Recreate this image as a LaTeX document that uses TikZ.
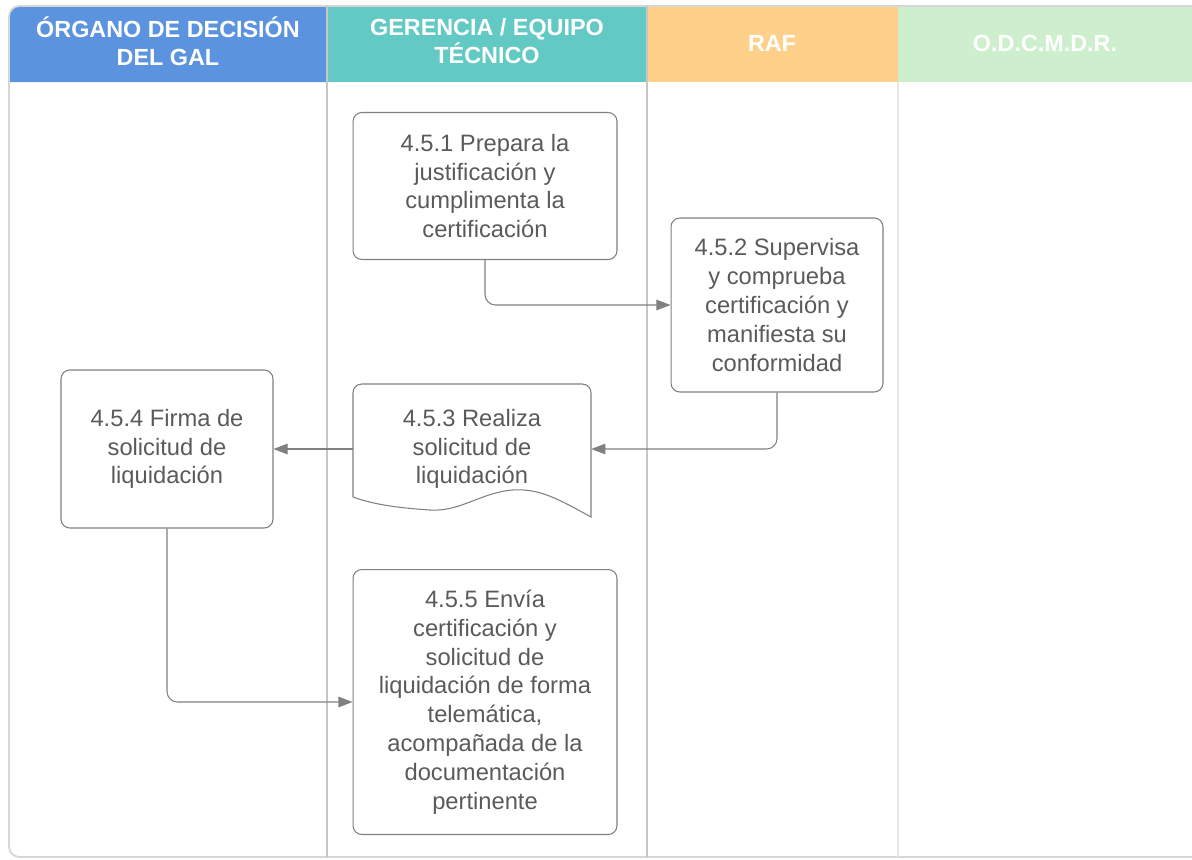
\documentclass[tikz,border=0pt]{standalone}
\usepackage{fontspec}
\setmainfont{Liberation Sans}
\usetikzlibrary{arrows.meta}
\definecolor{laneblue}{HTML}{5B93DE}
\definecolor{laneteal}{HTML}{62C9C4}
\definecolor{laneorange}{HTML}{FFD08A}
\definecolor{lanegreen}{HTML}{CDEFCD}
\definecolor{framegray}{HTML}{D6D6D6}
\definecolor{boxgray}{HTML}{808080}
\definecolor{txtgray}{HTML}{5A5A5A}

\begin{document}
\begin{tikzpicture}[x=0.02cm, y=-0.02cm,
  task/.style={draw=boxgray, line width=0.6pt, rounded corners=5pt, align=center,
    text=txtgray, font=\fontsize{13.5}{16.4}\selectfont},
  doctask/.style={align=center, text=txtgray, font=\fontsize{13.5}{16.4}\selectfont},
  flow/.style={draw=boxgray, line width=0.6pt, rounded corners=6pt,
    -{Triangle[length=8pt,width=6pt]}},
  lanehead/.style={text=white, align=center, font=\bfseries\fontsize{13.3}{15.9}\selectfont}]

\useasboundingbox (0,0) rectangle (1192,859);

% swimlane headers
\fill[laneblue] (9,82) [rounded corners=6pt] -- (9,6) [sharp corners] -- (327,6) -- (327,82) -- cycle;
\fill[laneteal] (327,6) rectangle (647,82);
\fill[laneorange] (647,6) rectangle (898,82);
\fill[lanegreen] (898,6) rectangle (1200,82);
\draw[framegray, line width=1pt, rounded corners=6pt] (1200,857) -- (9,857) -- (9,6) -- (1200,6);
\draw[framegray!140, line width=1.2pt] (327,6) -- (327,857);
\draw[framegray!140, line width=1.2pt] (647,6) -- (647,857);
\draw[framegray!60, line width=1pt] (898,82) -- (898,857);

\node[lanehead] (h1) at (168,41) {ÓRGANO DE DECISIÓN\\DEL GAL};
\node[lanehead] (h2) at (487,41) {GERENCIA / EQUIPO\\TÉCNICO};
\node[lanehead] (h3) at (772,43) {RAF};
\node[lanehead] (h4) at (1045,43) {O.D.C.M.D.R.};

% tasks
\node[task, minimum width=5.28cm, minimum height=2.94cm] (n451) at (485,186)
  {4.5.1 Prepara la\\justificación y\\cumplimenta la\\certificación};
\node[task, minimum width=4.24cm, minimum height=3.48cm] (n452) at (777,305)
  {4.5.2 Supervisa\\y comprueba\\certificación y\\manifiesta su\\conformidad};
\node[doctask, minimum width=4.76cm, minimum height=2.2cm] (n453) at (472,449)
  {4.5.3 Realiza\\solicitud de\\liquidación};
\draw[boxgray, line width=0.6pt] (353,497) [rounded corners=5pt] -- (353,384) -- (591,384)
  [sharp corners] -- (591,517) .. controls (560,500) and (540,488) .. (512,490)
  .. controls (480,493) and (460,512) .. (430,510) .. controls (400,508) and (375,505) .. (353,497);
\node[task, minimum width=4.24cm, minimum height=3.16cm] (n454) at (167,449)
  {4.5.4 Firma de\\solicitud de\\liquidación};
\node[task, minimum width=5.28cm, minimum height=5.3cm] (n455) at (485,702)
  {4.5.5 Envía\\certificación y\\solicitud de\\liquidación de forma\\telemática,\\acompañada de la\\documentación\\pertinente};

% connectors
\draw[flow] (n451) |- (n452);
\draw[flow] (n452) |- (n453);
\draw[flow] (n453) -- (n454);
\draw[flow] (n454) |- (n455);

\end{tikzpicture}
\end{document}
